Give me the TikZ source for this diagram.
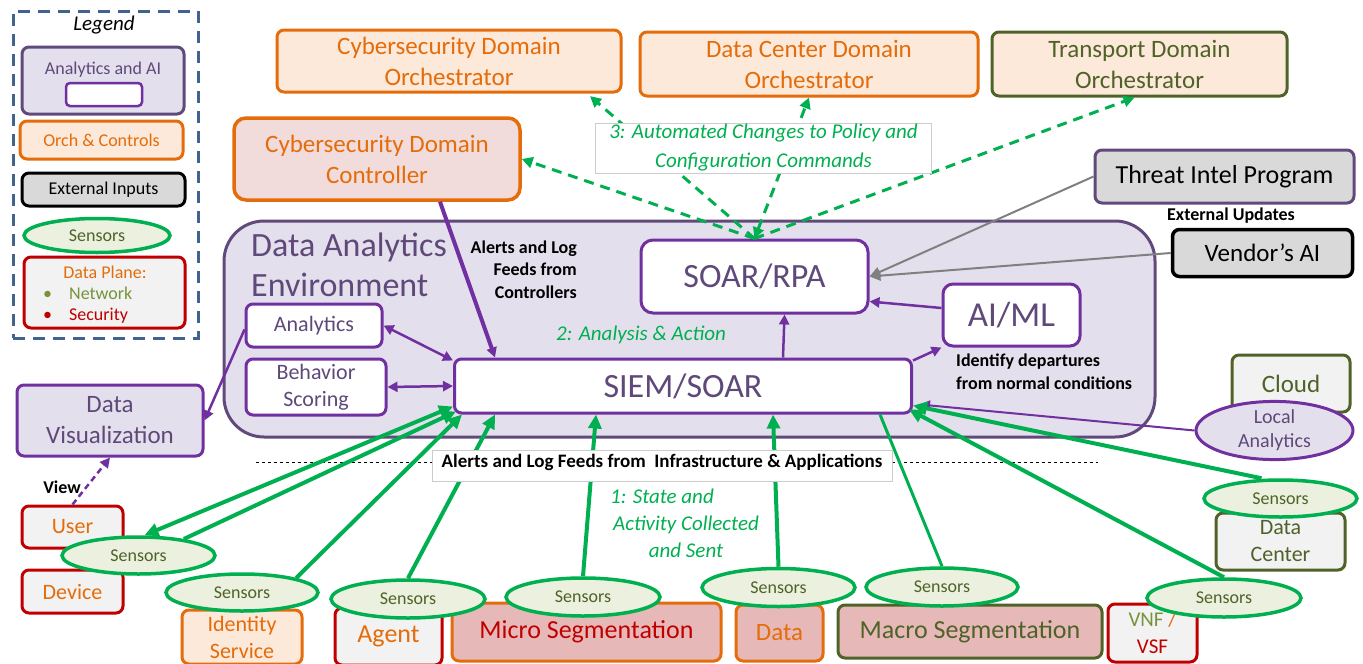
\documentclass[tikz,border=0pt]{standalone}
\usepackage{fontspec}
\setmainfont{Carlito}
\usetikzlibrary{arrows.meta, positioning, shapes.geometric}
\definecolor{purp}{HTML}{7030A0}
\definecolor{purgray}{HTML}{604A7B}
\definecolor{purtext}{HTML}{5F497A}
\definecolor{lav}{HTML}{E4DFEC}
\definecolor{orng}{HTML}{E46C0A}
\definecolor{orngfill}{HTML}{FDE9D9}
\definecolor{ctrlfill}{HTML}{F2DCDB}
\definecolor{dred}{HTML}{C00000}
\definecolor{ltgray}{HTML}{F2F2F2}
\definecolor{extgray}{HTML}{D9D9D9}
\definecolor{segfill}{HTML}{E6B9B8}
\definecolor{olv}{HTML}{4F6228}
\definecolor{netgreen}{HTML}{77933C}
\definecolor{sgreen}{HTML}{00B050}
\definecolor{sfill}{HTML}{EBF1DE}
\definecolor{legblue}{HTML}{41638F}
\definecolor{arrgray}{HTML}{808080}
\newcommand{\fsz}[2]{\fontsize{#1}{#2}\selectfont}

\begin{document}
\begin{tikzpicture}[x=1pt, y=-1pt,
    box/.style = {draw, rounded corners=7pt, line width=3pt, align=center, inner sep=0pt},
    orch/.style = {box, draw=orng, fill=orngfill, text=orng},
    plane/.style = {box, draw=dred, fill=ltgray, text=orng},
    anl/.style = {box, draw=purp, fill=white, text=purtext},
    ext/.style = {box, fill=extgray, text=black},
    sensor/.style = {ellipse, draw=sgreen, fill=sfill, line width=3.5pt, text=olv, inner sep=0pt, font=\fsz{18}{22}},
    note/.style = {inner sep=0pt, font=\bfseries\fsz{18}{23}},
    stepnote/.style = {inner sep=0pt, align=center, text=sgreen, font=\itshape\fsz{21}{27}},
    feed/.style = {draw=sgreen, line width=4pt, >={Triangle[length=14pt, width=13pt]}},
    flow/.style = {draw=purp, line width=2.5pt, >={Triangle[length=10pt, width=10pt]}},
    upd/.style = {draw=arrgray, line width=2pt, >={Triangle[length=11pt, width=10pt]}},
    cmd/.style = {draw=sgreen, line width=3pt, dash pattern=on 10pt off 7pt, >={Triangle[length=11pt, width=11pt]}}]

      \useasboundingbox (0,0) rectangle (1363,664);

      % Legend
      \node[draw=legblue, line width=3pt, dash pattern=on 12pt off 8pt, minimum width=185pt, minimum height=327pt, inner sep=0pt] (legend) at (105.5,174.5) {};
      \node[inner sep=0pt, font=\itshape\fsz{21}{24}] (legtitle) at (104,25) {Legend};
      \node[box, draw=purgray, fill=lav, minimum width=162pt, minimum height=67pt] (lgai) at (103,80.5) {};
      \node[inner sep=0pt, text=purtext, font=\fsz{18}{22}] (lgaitxt) at (103,70) {Analytics and AI};
      \node[anl, line width=2.5pt, rounded corners=4pt, minimum width=76pt, minimum height=23pt] (lgin) at (104,94.5) {};
      \node[orch, font=\fsz{18}{22}, minimum width=163pt, minimum height=38pt] (lgorch) at (101.5,140) {Orch \& Controls};
      \node[ext, draw=black, font=\fsz{18}{22}, minimum width=163pt, minimum height=33pt] (lgext) at (103.5,189.5) {External Inputs};
      \node[sensor, minimum width=146pt, minimum height=34pt] (lgsen) at (97,235.5) {Sensors};
      \node[plane, minimum width=161pt, minimum height=71pt] (lgdp) at (104.5,292.5) {};
      \node[inner sep=0pt, text=orng, font=\fsz{18}{22}] (dptitle) at (105,272) {Data Plane:};
      \node[inner sep=0pt, anchor=west, text=netgreen, font=\fsz{18}{22}] (dpnet) at (43,293) {\textbullet\hspace{17pt}Network};
      \node[inner sep=0pt, anchor=west, text=dred, font=\fsz{18}{22}] (dpsec) at (43,316) {\textbullet\hspace{17pt}Security};

      % Analytics environment
      \node[box, draw=purgray, fill=lav, rounded corners=40pt, minimum width=931pt, minimum height=216pt] (env) at (689.5,329) {};
      \node[inner sep=0pt, anchor=west, align=left, text=purtext, font=\fsz{34}{40}] (envtitle) at (251,265) {Data Analytics\\Environment};
      \node[anl, font=\fsz{22}{27}, minimum width=136pt, minimum height=43pt] (ana) at (314,325.5) {Analytics};
      \node[anl, font=\fsz{22}{27}, minimum width=140pt, minimum height=56pt] (beh) at (316,387) {Behavior\\Scoring};
      \node[anl, font=\fsz{34}{40}, minimum width=457pt, minimum height=54pt] (siem) at (683,386) {SIEM/SOAR};
      \node[anl, font=\fsz{34}{40}, rounded corners=12pt, minimum width=227pt, minimum height=73pt] (soar) at (754.5,276.5) {SOAR/RPA};
      \node[anl, font=\fsz{35}{40}, rounded corners=10pt, minimum width=137pt, minimum height=62pt] (aiml) at (1011.5,315) {AI/ML};
      \node[note, anchor=east, align=right, font=\bfseries\fsz{18}{22.5}] (ctrlnote) at (577,269.5) {Alerts and Log\\Feeds from\\Controllers};
      \node[note, anchor=west, align=left] (idnote) at (956,372) {Identify departures\\from normal conditions};
      \node[stepnote] (actnote) at (641,335) {2: Analysis \& Action};

      % Orchestrators and controllers
      \node[orch, font=\fsz{25}{31}, minimum width=344pt, minimum height=62pt] (cdo) at (449,61) {Cybersecurity Domain\\Orchestrator};
      \node[orch, font=\fsz{25}{31}, minimum width=338pt, minimum height=64pt] (dcdo) at (809,64) {Data Center Domain\\Orchestrator};
      \node[orch, draw=olv, text=olv, font=\fsz{25}{31}, minimum width=295pt, minimum height=64pt] (tdo) at (1139.5,64) {Transport Domain\\Orchestrator};
      \node[orch, fill=ctrlfill, line width=3.5pt, rounded corners=12pt, font=\fsz{25}{31}, minimum width=286pt, minimum height=82pt] (cdc) at (377,159) {Cybersecurity Domain\\Controller};

      % External inputs
      \node[ext, draw=purgray, font=\fsz{26}{30}, minimum width=259pt, minimum height=53pt] (tip) at (1224.5,176.5) {Threat Intel Program};
      \node[note] (extupd) at (1231,216) {External Updates};
      \node[ext, draw=black, line width=3.5pt, font=\fsz{25}{30}, minimum width=180pt, minimum height=47pt] (vai) at (1262.5,253) {Vendor’s AI};

      % Left side
      \node[box, draw=purp, fill=lav, text=purtext, font=\fsz{25}{31}, minimum width=186pt, minimum height=71pt] (dviz) at (110,420.5) {Data\\Visualization};
      \node[note] (viewnote) at (62,487) {View};
      \node[plane, font=\fsz{22}{27}, minimum width=101pt, minimum height=42pt] (user) at (72.5,527) {User};
      \node[plane, font=\fsz{22}{27}, minimum width=101pt, minimum height=43pt] (dev) at (72.5,591.5) {Device};

      % Data plane
      \node[orch, font=\fsz{22}{27}, minimum width=120pt, minimum height=54pt] (ids) at (242,637) {Identity\\Service};
      \node[plane, font=\fsz{26}{30}, minimum width=107pt, minimum height=57pt] (agent) at (388.5,636.5) {Agent};
      \node[orch, fill=segfill, text=dred, font=\fsz{26}{30}, minimum width=269pt, minimum height=58pt] (micro) at (586.5,632) {Micro Segmentation};
      \node[orch, fill=segfill, font=\fsz{25}{30}, minimum width=87pt, minimum height=56pt] (data) at (779.5,633) {Data};
      \node[orch, draw=olv, fill=segfill, text=olv, font=\fsz{26}{30}, minimum width=264pt, minimum height=53pt] (macro) at (970,631.5) {Macro Segmentation};
      \node[plane, font=\fsz{21}{27}, minimum width=89pt, minimum height=58pt] (vnf) at (1152.5,633) {{\color{netgreen}VNF} {\color{orng}/}\\{\color{dred}VSF}};
      \node[plane, draw=olv, text=olv, font=\fsz{22}{27}, minimum width=129pt, minimum height=57pt] (dc) at (1280.5,541.5) {Data\\Center};
      \node[plane, draw=olv, text=olv, font=\fsz{25}{30}, minimum width=118pt, minimum height=57pt] (cloud) at (1291,383.5) {Cloud};
      \node[ellipse, draw=purp, fill=lav, line width=3pt, text=purtext, inner sep=0pt, align=center, font=\fsz{20}{24}, minimum width=157pt, minimum height=51pt] (local) at (1274.5,430.5) {Local\\Analytics};

      % Sensors
      \node[sensor, minimum width=153pt, minimum height=37pt] (s1) at (138.5,555.5) {Sensors};
      \node[sensor, minimum width=152pt, minimum height=37pt] (s2) at (242,592.5) {Sensors};
      \node[sensor, minimum width=154pt, minimum height=38pt] (s3) at (408,599) {Sensors};
      \node[sensor, minimum width=154pt, minimum height=38pt] (s4) at (583,597) {Sensors};
      \node[sensor, minimum width=153pt, minimum height=38pt] (s5) at (778.5,587.5) {Sensors};
      \node[sensor, minimum width=152pt, minimum height=38pt] (s6) at (942,587) {Sensors};
      \node[sensor, minimum width=154pt, minimum height=38pt] (s7) at (1224,598) {Sensors};
      \node[sensor, minimum width=153pt, minimum height=37pt] (s8) at (1280.5,498.5) {Sensors};

      % Analytics flows
      \draw[flow, line width=4pt, ->] ([xshift=63pt]cdc.south) -- ([xshift=42pt]siem.north west);
      \draw[flow, <->] (ana.east) -- ([yshift=-3pt]siem.north west);
      \draw[flow, <->] (beh.east) -- (siem.west);
      \draw[flow, ->] ([xshift=330pt]siem.north west) -- ([xshift=30pt]soar.south);
      \draw[flow, ->] ([yshift=7pt]aiml.west) -- ([yshift=-25pt]soar.east);
      \draw[flow, ->] ([yshift=-3pt]siem.north east) -- (aiml.south west);
      \draw[flow, line width=2pt, ->] (local.west) -- ([xshift=7pt, yshift=10pt]siem.south east);
      \draw[flow, ->] ([yshift=-4pt]ana.west) -- (dviz.east);
      \draw[flow, dash pattern=on 6pt off 4pt, ->] (user.north) -- (dviz.south);
      \draw[upd, ->] (tip.west) -- (soar.east);
      \draw[upd, ->] (vai.west) -- (soar.east);

      % Automated changes
      \draw[cmd, ->] (soar.north) -- (cdc.east);
      \draw[cmd, ->, shorten >=4pt] (soar.north) -- ([xshift=138pt]cdo.south);
      \draw[cmd, <->] (soar.north) -- (dcdo.south);
      \draw[cmd, ->] (soar.north) -- ([xshift=-5pt]tdo.south);
      \node[draw=gray!40, line width=0.8pt, fill=white, minimum width=336pt, minimum height=50pt, stepnote, font=\itshape\fsz{21}{29}] (cmdnote) at (763.5,148) {3: Automated Changes to Policy and\\Configuration Commands};

      % Feeds from infrastructure
      \coordinate (dl1) at (256,462);
      \coordinate (dl2) at (1098,462);
      \draw[dashed, line width=1pt] (dl1) -- (dl2);
      \draw[feed, <->] ([xshift=6pt]s1.north) -- ([yshift=8pt]siem.south west);
      \draw[feed, ->] (s1.20) -- ([xshift=3pt, yshift=3pt]siem.south west);
      \draw[feed, ->] (s2.15) -- ([xshift=9pt]siem.south west);
      \draw[feed, ->] (s3.north) -- ([xshift=42pt]siem.south west);
      \draw[feed, ->] (s4.north) -- ([xshift=143pt]siem.south west);
      \draw[feed, ->] (s5.north) -- ([xshift=320pt]siem.south west);
      \draw[feed, line width=3pt] (s6.north) -- ([xshift=427pt]siem.south west);
      \draw[feed, ->] (s7.north) -- ([xshift=-4pt, yshift=5pt]siem.south east);
      \draw[feed, ->] ([xshift=-19pt]s8.north) -- ([yshift=9pt]siem.south east);
      \node[draw=gray!40, line width=0.8pt, fill=white, inner sep=0pt, text height=17pt, text depth=14pt, minimum width=460pt, font=\bfseries\fsz{19}{23}] (infra) at (662,465.5) {Alerts and Log Feeds from~ Infrastructure \& Applications};
      \node[stepnote] (statenote) at (686,523) {1: State and\hspace*{48pt}\\Activity Collected\\and Sent};

    \end{tikzpicture}
\end{document}
